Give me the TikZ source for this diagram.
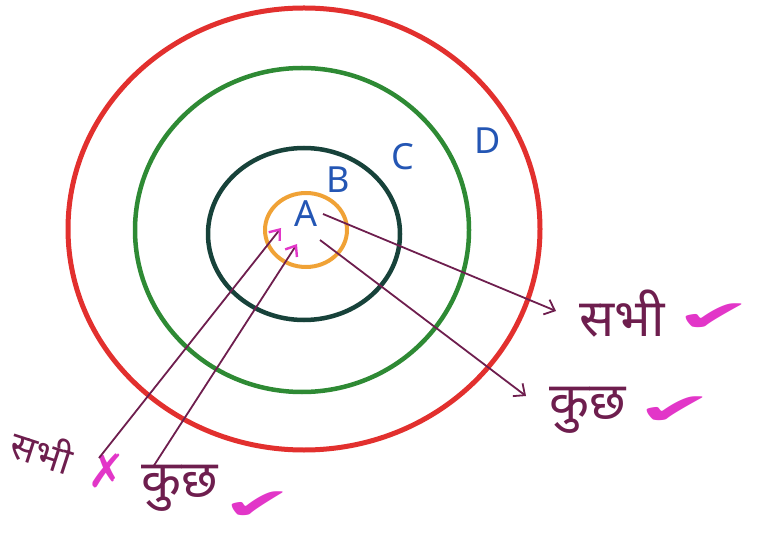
\documentclass[tikz,border=0pt]{standalone}
\usepackage{fontspec}
\newfontfamily\hindi[Script=Devanagari]{Noto Sans}
\newfontfamily\tickfont{DejaVu Sans}
\usetikzlibrary{arrows.meta}
\definecolor{ringred}{HTML}{E2302E}
\definecolor{ringgreen}{HTML}{2E8A34}
\definecolor{ringdark}{HTML}{17423A}
\definecolor{ringorange}{HTML}{F0A236}
\definecolor{inkblue}{HTML}{2456B4}
\definecolor{inkplum}{HTML}{6E1E4E}
\definecolor{inkpink}{HTML}{E236C8}

\begin{document}
\begin{tikzpicture}[x=1pt, y=-1pt,
    letter/.style={text=inkblue, inner sep=0, font=\hindi\fontsize{36}{40}\selectfont},
    word/.style={text=inkplum, inner sep=0, font=\hindi\fontsize{52}{56}\selectfont},
    okmark/.style={text=inkpink, inner sep=0, font=\tickfont\fontsize{40}{44}\selectfont},
    pointer/.style={inkplum, line width=1.8}]
    \useasboundingbox (0,0) rectangle (762,534);

    % the four rings
    \draw[ringred, line width=5] (304,229) ellipse [x radius=236, y radius=221];
    \draw[ringgreen, line width=4.5] (302,230) ellipse [x radius=167, y radius=162];
    \draw[ringdark, line width=4.5] (304,234) ellipse [x radius=96, y radius=86];
    \draw[ringorange, line width=4] (306,230) ellipse [x radius=41, y radius=37];

    \node[letter] (A) at (306,214) {A};
    \node[letter] (B) at (338,180) {B};
    \node[letter] (C) at (403,157) {C};
    \node[letter] (D) at (488,141) {D};

    % right side
    \node[word] (sabhiR) at (622,314) {सभी};
    \node[okmark] (okR1) at (714,318) {\scalebox{2.3}[1.1]{✔}};
    \node[word] (kuchhR) at (588,410) {कुछ};
    \node[okmark] (okR2) at (675,411) {\scalebox{2.3}[1.1]{✔}};

    % left side
    \node[word, rotate=-18, font=\hindi\fontsize{38}{42}\selectfont] (sabhiL) at (42,450) {सभी};
    \node[okmark, font=\tickfont\fontsize{46}{50}\selectfont] (noL) at (107,471) {✗};
    \node[word] (kuchhL) at (180,488) {कुछ};
    \node[okmark] (okL) at (258,506) {\scalebox{2.1}[1.1]{✔}};

    \coordinate (fromA1) at (323,214);
    \coordinate (fromA2) at (320,240);
    \coordinate (toA1) at (281,228);
    \coordinate (toA2) at (297,244);
    \coordinate (tipR1) at (556,311);
    \coordinate (tipR2) at (526,396);
    \coordinate (tailL1) at (99,458);
    \coordinate (tailL2) at (153,467);

    \draw[pointer, -{Straight Barb[length=9pt, width=16pt]}] (fromA1) -- (tipR1);
    \draw[pointer, -{Straight Barb[length=9pt, width=16pt]}] (fromA2) -- (tipR2);
    \draw[pointer, -{Straight Barb[length=9pt, width=14pt, inkpink, line width=2.4]}] (tailL1) -- (toA1);
    \draw[pointer, -{Straight Barb[length=9pt, width=14pt, inkpink, line width=2.4]}] (tailL2) -- (toA2);
\end{tikzpicture}
\end{document}
